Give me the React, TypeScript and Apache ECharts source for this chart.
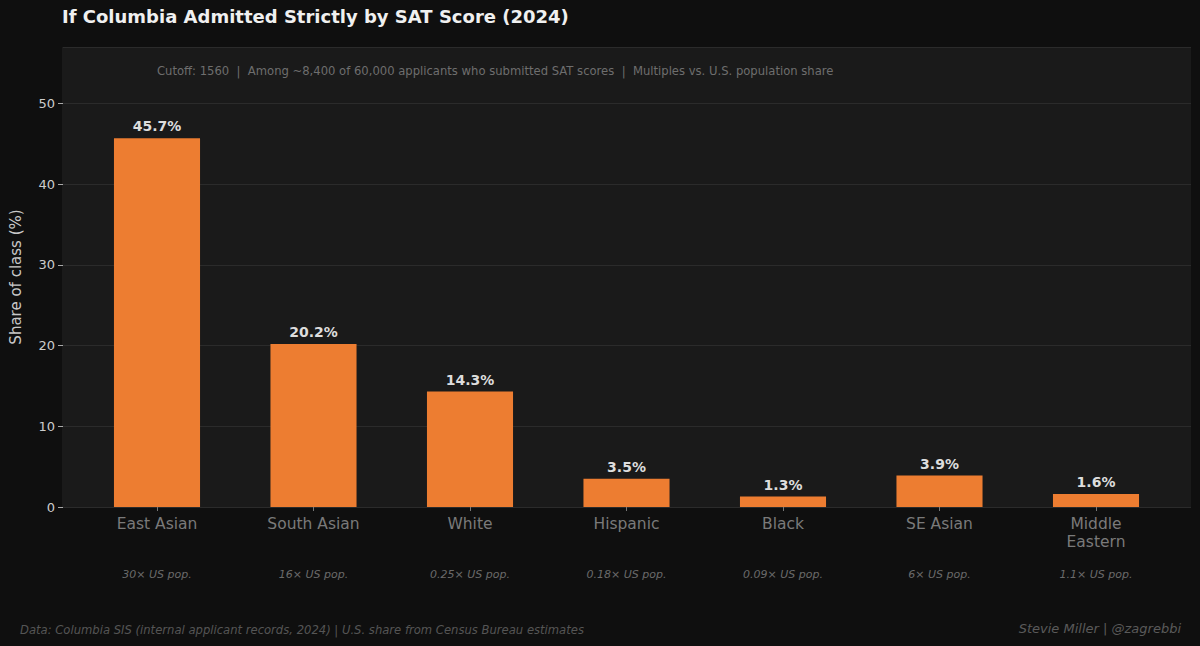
import React, { useEffect, useRef } from "react";
import * as echarts from "echarts";

const categories = ["East Asian", "South Asian", "White", "Hispanic", "Black", "SE Asian", "Middle\nEastern"];
const shares = [45.7, 20.2, 14.3, 3.5, 1.3, 3.9, 1.6];
const multiples = ["30× US pop.", "16× US pop.", "0.25× US pop.", "0.18× US pop.", "0.09× US pop.", "6× US pop.", "1.1× US pop."];
const yTicks = [0, 10, 20, 30, 40, 50];

const FONT = "DejaVu Sans";

export default function App() {
  const ref = useRef<HTMLDivElement>(null);
  useEffect(() => {
    if (!ref.current) return;
    const chart = echarts.init(ref.current, undefined, { renderer: "svg" });
    const yMax = 57;
    chart.setOption({
      animation: false,
      backgroundColor: "#0f0f0f",
      textStyle: { fontFamily: FONT },
      title: [
        {
          text: "If Columbia Admitted Strictly by SAT Score (2024)",
          left: 62,
          top: 7,
          padding: 0,
          textStyle: { color: "#f0f0f0", fontSize: 18, fontWeight: "bold", fontFamily: FONT },
        },
      ],
      graphic: [
        {
          type: "rect",
          z: -10,
          silent: true,
          shape: { x: 62, y: 47, width: 1129, height: 460 },
          style: { fill: "#1a1a1a" },
        },
        {
          type: "text",
          left: 157,
          top: 65,
          style: {
            text: "Cutoff: 1560  |  Among ~8,400 of 60,000 applicants who submitted SAT scores  |  Multiples vs. U.S. population share",
            fill: "#6e6e6e",
            fontSize: 11.6,
            fontFamily: FONT,
          },
        },
        {
          type: "text",
          left: 20,
          top: 624,
          style: {
            text: "Data: Columbia SIS (internal applicant records, 2024) | U.S. share from Census Bureau estimates",
            fill: "#555555",
            fontSize: 11.6,
            fontStyle: "italic",
            fontFamily: FONT,
          },
        },
        {
          type: "text",
          right: 19,
          top: 622,
          style: {
            text: "Stevie Miller | @zagrebbi",
            fill: "#5a5a5a",
            fontSize: 13,
            fontStyle: "italic",
            fontFamily: FONT,
          },
        },
      ],
      grid: [
        { left: 62, right: 9, top: 47, bottom: 139, containLabel: false },
        { left: 78.75, right: 25.75, top: 47, bottom: 139, containLabel: false },
      ],
      xAxis: [
        { gridIndex: 0, type: "value", show: false, min: 0, max: 1 },
        {
          gridIndex: 1,
          type: "category",
          data: categories,
          axisLine: { show: false },
          axisTick: { show: true, alignWithLabel: true, length: 4, lineStyle: { color: "#777777" } },
          axisLabel: { color: "#7a7a7a", fontSize: 15.5, fontFamily: FONT, margin: 8, lineHeight: 18 },
          splitLine: { show: false },
        },
        {
          gridIndex: 1,
          type: "category",
          data: multiples,
          position: "bottom",
          offset: 54,
          axisLine: { show: false },
          axisTick: { show: false },
          axisLabel: { color: "#6a6a6a", fontSize: 11, fontStyle: "italic", fontFamily: FONT, margin: 8 },
        },
      ],
      yAxis: [
        {
          gridIndex: 0,
          type: "value",
          min: 0,
          max: yMax,
          interval: 10,
          name: "Share of class (%)",
          nameLocation: "middle",
          nameGap: 40,
          nameTextStyle: { color: "#c8c8c8", fontSize: 15, fontFamily: FONT },
          axisLine: { show: false },
          axisTick: { show: true, length: 5, lineStyle: { color: "#aaaaaa" } },
          axisLabel: {
            color: "#cccccc",
            fontSize: 13,
            fontFamily: FONT,
            margin: 8,
            showMaxLabel: false,
            formatter: (v: number) => (yTicks.includes(v) ? String(v) : ""),
          },
          splitLine: { show: true, lineStyle: { color: "#2b2b2b", width: 1 } },
        },
        { gridIndex: 1, type: "value", min: 0, max: yMax, show: false, splitLine: { show: false } },
      ],
      series: [
        {
          type: "bar",
          xAxisIndex: 1,
          yAxisIndex: 1,
          data: shares,
          barWidth: "55%",
          itemStyle: { color: "#ed7d31" },
          label: {
            show: true,
            position: "top",
            distance: 5,
            formatter: (p: any) => `${p.value.toFixed(1)}%`,
            color: "#dddddd",
            fontSize: 14,
            fontWeight: "bold",
            fontFamily: FONT,
          },
        },
      ],
    });
    return () => chart.dispose();
  }, []);
  return (
    <div
      ref={ref}
      style={{ position: "fixed", left: 0, top: 0, width: 1200, height: 646 }}
    />
  );
}
